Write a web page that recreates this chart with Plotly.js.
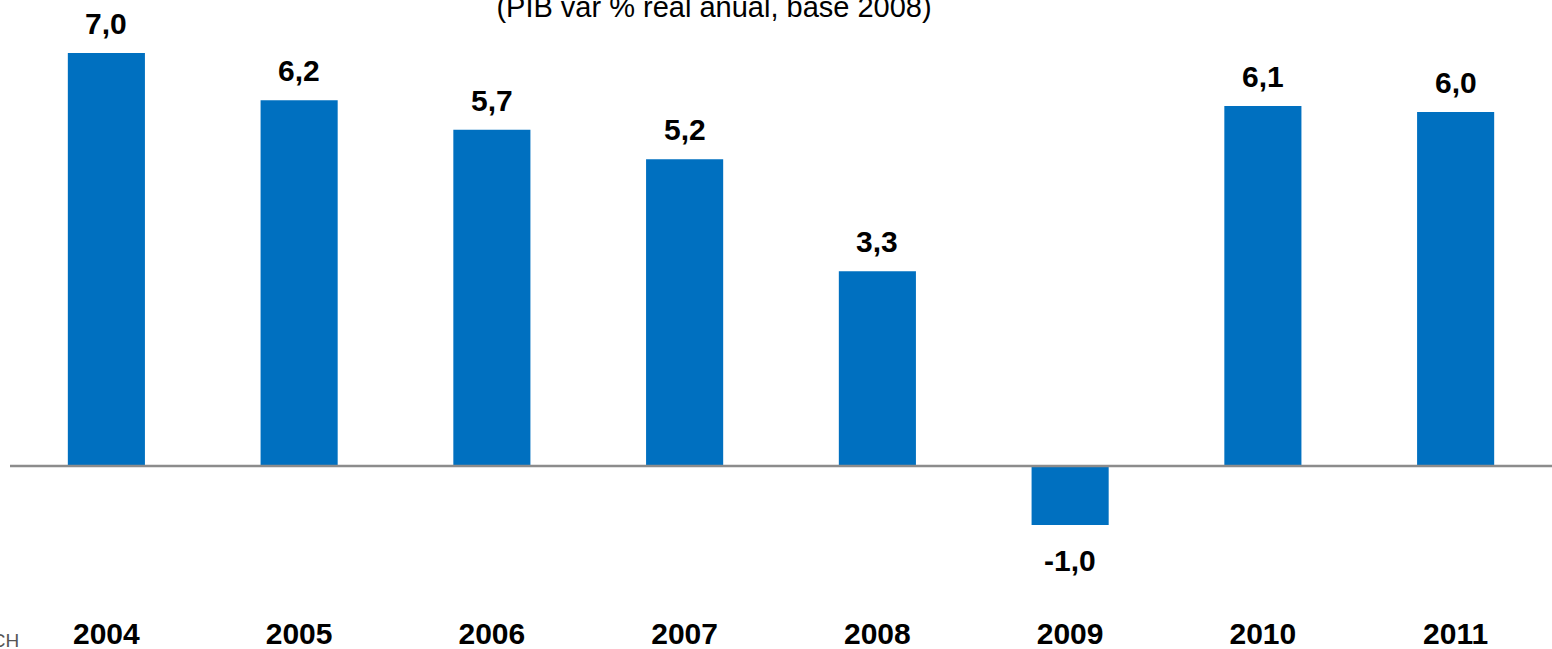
<!DOCTYPE html>
<html>
<head>
<meta charset="utf-8">
<script src="https://cdn.plot.ly/plotly-3.0.1.min.js"></script>
<style>html,body{margin:0;padding:0;background:#fff;}#chart{width:1552px;height:649px;}</style>
</head>
<body>
<div id="chart"></div>
<script>
const years = ['2004','2005','2006','2007','2008','2009','2010','2011'];
const pib = [7.0, 6.2, 5.7, 5.2, 3.3, -1.0, 6.1, 6.0];
const titleText = '(PIB var % real anual, base 2008)';
const sourceText = 'BCH';

const fmt = v => v.toFixed(1).replace('.', ',');

const valueLabels = years.map((yr, i) => ({
  x: i, y: pib[i], xref: 'x', yref: 'y',
  text: fmt(pib[i]), showarrow: false,
  yanchor: pib[i] >= 0 ? 'bottom' : 'top',
  yshift: pib[i] >= 0 ? 11 : -17,
  font: {family: 'Liberation Sans, Arial, sans-serif', size: 30, color: '#000', weight: 'bold'}
}));

const trace = {
  type: 'bar', x: years, y: pib,
  marker: {color: '#0070C0'},
  hoverinfo: 'x+y'
};

const layout = {
  width: 1552, height: 649,
  margin: {l: 10, r: 0, t: 0, b: 49},
  paper_bgcolor: '#fff', plot_bgcolor: '#fff',
  bargap: 0.6,
  showlegend: false,
  title: {
    text: titleText, x: 714/1552, xref: 'container', xanchor: 'center',
    y: 1 - 7/649, yref: 'container', yanchor: 'middle',
    font: {family: 'Liberation Sans, Arial, sans-serif', size: 29, color: '#000'}
  },
  xaxis: {
    type: 'category', range: [-0.5, 7.5], autorange: false,
    showgrid: false, zeroline: false, showline: false, ticks: '',
    ticklabelstandoff: 13,
    tickfont: {family: 'Liberation Sans, Arial, sans-serif', size: 30, color: '#000', weight: 'bold'}
  },
  yaxis: {
    range: [-(600-466)/59, 466/59], autorange: false, showgrid: false, zeroline: false,
    showticklabels: false, ticks: '', showline: false
  },
  shapes: [{
    type: 'line', xref: 'paper', x0: 0, x1: 1, yref: 'y', y0: 0, y1: 0,
    line: {color: '#8c8c8c', width: 2.5}, layer: 'above'
  }],
  annotations: valueLabels.concat([{
    xref: 'paper', yref: 'paper', x: (21-10)/1542, y: -40/600,
    xanchor: 'right', yanchor: 'middle', showarrow: false,
    text: sourceText,
    font: {family: 'Liberation Sans, Arial, sans-serif', size: 19, color: '#555'}
  }])
};

Plotly.newPlot('chart', [trace], layout, {displayModeBar: false, staticPlot: true});
</script>
</body>
</html>
